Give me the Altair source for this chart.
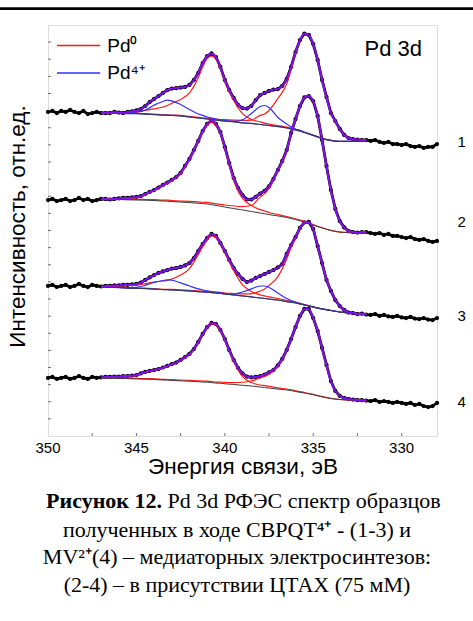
import altair as alt
import pandas as pd

# ---------------- energies (eV) ----------------
E_DATA = [350.0, 349.75, 349.5, 349.25, 349.0, 348.75, 348.5, 348.25, 348.0, 347.75, 347.5, 347.25,
          347.0, 346.75, 346.5, 346.25, 346.0, 345.75, 345.5, 345.25, 345.0, 344.75, 344.5, 344.25,
          344.0, 343.75, 343.5, 343.25, 343.0, 342.75, 342.5, 342.25, 342.0, 341.75, 341.5, 341.25,
          341.0, 340.75, 340.5, 340.25, 340.0, 339.75, 339.5, 339.25, 339.0, 338.75, 338.5, 338.25,
          338.0, 337.75, 337.5, 337.25, 337.0, 336.75, 336.5, 336.25, 336.0, 335.75, 335.5, 335.25,
          335.0, 334.75, 334.5, 334.25, 334.0, 333.75, 333.5, 333.25, 333.0, 332.75, 332.5, 332.25,
          332.0, 331.75, 331.5, 331.25, 331.0, 330.75, 330.5, 330.25, 330.0, 329.75, 329.5, 329.25,
          329.0, 328.75, 328.5, 328.25, 328.0]

E_FIT = [347.0, 346.5, 346.0, 345.5, 345.0, 344.5, 344.0, 343.5, 343.25, 343.0,
         342.5, 342.0, 341.5, 341.25, 341.0, 340.75, 340.5, 340.25, 340.0, 339.5,
         339.0, 338.5, 338.0, 337.75, 337.5, 337.0, 336.5, 336.25, 336.0, 335.75,
         335.5, 335.25, 335.0, 334.75, 334.5, 334.0, 333.5, 333.0, 332.5, 332.0]

# ---------------- measured spectra (stacked, rel. units) ----------------
SPECTRUM_1 = [18.92, 18.98, 18.86, 18.98, 18.92, 19.04, 18.92, 18.86, 18.98, 18.80, 18.86, 18.92,
              18.86, 18.86, 18.86, 18.92, 18.89, 18.86, 18.92, 18.95, 19.01, 19.09, 19.27, 19.50,
              19.68, 19.85, 20.03, 20.20, 20.29, 20.32, 20.35, 20.38, 20.50, 20.79, 21.20, 21.78,
              22.19, 22.34, 22.13, 21.55, 20.79, 20.20, 19.74, 19.33, 19.15, 19.12, 19.27, 19.62,
              19.91, 20.03, 20.15, 20.23, 20.26, 20.44, 20.85, 21.55, 22.42, 23.12, 23.50, 23.42,
              22.89, 21.96, 20.79, 19.80, 18.86, 18.39, 17.93, 17.58, 17.40, 17.34, 17.31, 17.28,
              17.28, 17.23, 17.28, 17.17, 17.11, 17.17, 17.05, 17.05, 16.99, 17.05, 16.93, 16.88,
              16.93, 16.82, 16.88, 16.88, 17.05]
SPECTRUM_2 = [13.78, 13.84, 13.72, 13.78, 13.84, 13.72, 13.78, 13.90, 13.78, 13.84, 13.72, 13.78,
              13.84, 13.84, 13.81, 13.84, 13.87, 13.90, 13.90, 13.93, 13.96, 14.01, 14.13, 14.25,
              14.36, 14.51, 14.66, 14.80, 14.95, 15.12, 15.36, 15.77, 16.18, 16.70, 17.23, 17.81,
              18.22, 18.42, 18.22, 17.75, 16.88, 15.94, 15.07, 14.48, 14.07, 13.81, 13.81, 13.96,
              14.16, 14.31, 14.57, 15.01, 15.53, 16.06, 16.70, 17.69, 18.51, 19.27, 19.77, 19.85,
              19.56, 18.69, 17.28, 15.77, 14.36, 13.26, 12.55, 12.18, 11.97, 11.91, 11.88, 11.91,
              11.91, 11.85, 11.80, 11.85, 11.74, 11.80, 11.68, 11.68, 11.62, 11.56, 11.62, 11.50,
              11.45, 11.50, 11.39, 11.33, 11.39]
SPECTRUM_3 = [8.76, 8.82, 8.70, 8.76, 8.82, 8.70, 8.76, 8.88, 8.76, 8.70, 8.82, 8.76,
              8.73, 8.76, 8.76, 8.79, 8.79, 8.82, 8.82, 8.85, 8.88, 8.96, 9.11, 9.26,
              9.40, 9.52, 9.61, 9.69, 9.78, 9.81, 9.87, 9.96, 10.10, 10.39, 10.80, 11.21,
              11.56, 11.80, 11.68, 11.27, 10.80, 10.28, 9.81, 9.46, 9.17, 8.99, 9.08, 9.23,
              9.34, 9.46, 9.58, 9.69, 9.84, 10.04, 10.63, 11.15, 11.62, 12.15, 12.47, 12.50,
              12.09, 11.09, 10.10, 9.11, 8.47, 7.94, 7.59, 7.36, 7.21, 7.18, 7.12, 7.15,
              7.09, 7.07, 7.12, 7.01, 7.07, 6.98, 6.95, 7.01, 6.92, 6.89, 6.95, 6.86,
              6.83, 6.89, 6.80, 6.77, 6.89]
SPECTRUM_4 = [3.39, 3.45, 3.33, 3.39, 3.45, 3.33, 3.39, 3.50, 3.39, 3.33, 3.45, 3.39,
              3.42, 3.45, 3.45, 3.47, 3.47, 3.50, 3.50, 3.53, 3.56, 3.65, 3.74, 3.80,
              3.85, 3.91, 4.00, 4.09, 4.20, 4.29, 4.44, 4.61, 4.79, 5.08, 5.49, 5.96,
              6.36, 6.60, 6.54, 6.19, 5.66, 5.02, 4.44, 3.97, 3.65, 3.47, 3.42, 3.45,
              3.50, 3.59, 3.71, 3.85, 4.12, 4.50, 5.02, 5.66, 6.36, 7.01, 7.42, 7.42,
              6.89, 6.13, 5.14, 4.15, 3.21, 2.63, 2.34, 2.22, 2.16, 2.13, 2.10, 2.10,
              2.07, 2.04, 2.10, 1.99, 2.04, 1.99, 1.93, 1.99, 1.93, 1.87, 1.93, 1.81,
              1.87, 1.75, 1.69, 1.75, 1.93]

# ---------------- Shirley backgrounds ----------------
BG_1 = [18.86, 18.86, 18.86, 18.83, 18.83, 18.80, 18.77, 18.74, 18.73, 18.72,
        18.69, 18.63, 18.57, 18.54, 18.51, 18.48, 18.45, 18.42, 18.39, 18.34,
        18.28, 18.25, 18.19, 18.16, 18.13, 18.07, 17.99, 17.93, 17.87, 17.81,
        17.72, 17.64, 17.55, 17.46, 17.37, 17.26, 17.20, 17.20, 17.20, 17.20]
BG_2 = [13.84, 13.83, 13.81, 13.79, 13.78, 13.77, 13.75, 13.72, 13.71, 13.69,
        13.66, 13.63, 13.59, 13.57, 13.55, 13.51, 13.46, 13.42, 13.37, 13.28,
        13.20, 13.11, 13.02, 12.98, 12.93, 12.85, 12.76, 12.70, 12.64, 12.57,
        12.50, 12.41, 12.32, 12.23, 12.15, 12.00, 11.91, 11.88, 11.85, 11.85]
BG_3 = [8.70, 8.68, 8.67, 8.64, 8.62, 8.61, 8.58, 8.55, 8.54, 8.53,
        8.50, 8.47, 8.43, 8.41, 8.39, 8.37, 8.35, 8.33, 8.29, 8.23,
        8.18, 8.12, 8.06, 8.03, 8.00, 7.94, 7.85, 7.81, 7.77, 7.71,
        7.65, 7.59, 7.53, 7.47, 7.42, 7.33, 7.24, 7.18, 7.15, 7.12]
BG_4 = [3.39, 3.38, 3.36, 3.35, 3.33, 3.32, 3.30, 3.27, 3.26, 3.25,
        3.22, 3.20, 3.17, 3.15, 3.14, 3.12, 3.09, 3.08, 3.05, 3.01,
        2.96, 2.92, 2.86, 2.83, 2.80, 2.74, 2.69, 2.65, 2.60, 2.55,
        2.51, 2.46, 2.41, 2.35, 2.29, 2.19, 2.13, 2.10, 2.07, 2.04]

# ---------------- fitted components (height above background) ----------------
PD0_A_1 = [0, 0, 0.01, 0.05, 0.08, 0.22, 0.33, 0.47, 0.57, 0.71, 0.96, 1.40, 2.36, 3.02, 3.52, 3.71, 3.56, 3.02, 2.28, 1.25,
           0.54, 0.23, 0.15, 0.11, 0.08, 0.06, 0.05, 0.05, 0.04, 0.04, 0.03, 0.02, 0.02, 0.02, 0.01, 0.01, 0.01, 0, 0, 0]
PD0_B_1 = [0.01, 0.01, 0.01, 0.01, 0.01, 0.02, 0.02, 0.02, 0.02, 0.02, 0.03, 0.03, 0.04, 0.04, 0.05, 0.05, 0.06, 0.06, 0.08, 0.11,
           0.15, 0.20, 0.53, 0.64, 0.88, 1.64, 2.57, 3.46, 4.46, 5.28, 5.76, 5.76, 5.33, 4.48, 3.40, 1.60, 0.73, 0.20, 0.12, 0.09]
PD4_A_1 = [0, 0, 0.01, 0.03, 0.09, 0.23, 0.55, 0.79, 0.88, 0.85, 0.67, 0.44, 0.23, 0.18, 0.12, 0.09, 0.06, 0.04, 0.03, 0.02,
           0.01, 0.01, 0, 0, 0, 0, 0, 0, 0, 0, 0, 0, 0, 0, 0, 0, 0, 0, 0, 0]
PD4_B_1 = [0, 0, 0, 0, 0, 0, 0, 0, 0, 0, 0, 0, 0, 0, 0, 0, 0, 0, 0.01, 0.03,
           0.18, 0.58, 1.05, 1.14, 1.05, 0.53, 0.23, 0.12, 0.06, 0.03, 0.02, 0.01, 0.01, 0, 0, 0, 0, 0, 0, 0]

PD0_A_2 = [0, 0.01, 0.04, 0.08, 0.14, 0.32, 0.57, 0.88, 1.03, 1.20, 1.63, 2.47, 3.56, 4.16, 4.58, 4.82, 4.66, 4.23, 3.39, 1.64,
           0.67, 0.35, 0.20, 0.16, 0.12, 0.08, 0.06, 0.05, 0.04, 0.04, 0.03, 0.02, 0.02, 0.02, 0.01, 0.01, 0, 0, 0, 0]
PD0_B_2 = [0.01, 0.02, 0.02, 0.03, 0.04, 0.04, 0.05, 0.05, 0.06, 0.06, 0.06, 0.07, 0.08, 0.08, 0.09, 0.09, 0.10, 0.11, 0.12, 0.15,
           0.20, 0.35, 0.93, 1.17, 1.52, 2.60, 3.88, 4.95, 5.83, 6.66, 7.24, 7.42, 7.22, 6.43, 5.13, 2.36, 0.64, 0.09, 0.03, 0.03]

PD0_A_3 = [0.02, 0.06, 0.10, 0.15, 0.18, 0.29, 0.41, 0.50, 0.55, 0.64, 0.90, 1.31, 2.17, 2.65, 3.04, 3.31, 3.23, 2.86, 2.42, 1.42,
           0.64, 0.32, 0.18, 0.15, 0.12, 0.09, 0.06, 0.05, 0.04, 0.04, 0.03, 0.02, 0.02, 0.01, 0.01, 0, 0, 0, 0, 0]
PD0_B_3 = [0.01, 0.01, 0.02, 0.02, 0.02, 0.02, 0.02, 0.02, 0.03, 0.03, 0.03, 0.04, 0.04, 0.04, 0.05, 0.05, 0.05, 0.06, 0.06, 0.09,
           0.12, 0.18, 0.41, 0.55, 0.79, 1.37, 2.48, 3.20, 3.77, 4.38, 4.78, 4.88, 4.54, 3.61, 2.67, 1.13, 0.35, 0.03, 0, 0]
PD4_A_3 = [0, 0, 0.01, 0.02, 0.06, 0.19, 0.39, 0.53, 0.58, 0.57, 0.44, 0.29, 0.16, 0.12, 0.08, 0.06, 0.04, 0.03, 0.02, 0.01,
           0, 0, 0, 0, 0, 0, 0, 0, 0, 0, 0, 0, 0, 0, 0, 0, 0, 0, 0, 0]
PD4_B_3 = [0, 0, 0, 0, 0, 0, 0, 0, 0, 0, 0, 0, 0, 0, 0, 0, 0, 0, 0.01, 0.06,
           0.23, 0.47, 0.70, 0.73, 0.67, 0.41, 0.18, 0.10, 0.05, 0.02, 0.01, 0, 0, 0, 0, 0, 0, 0, 0, 0]

PD0_A_4 = [0.01, 0.05, 0.09, 0.13, 0.20, 0.39, 0.52, 0.69, 0.79, 0.92, 1.17, 1.54, 2.27, 2.75, 3.17, 3.42, 3.38, 3.04, 2.53, 1.33,
           0.51, 0.20, 0.12, 0.11, 0.10, 0.07, 0.05, 0.05, 0.04, 0.04, 0.03, 0.02, 0.02, 0.01, 0.01, 0.01, 0, 0, 0, 0]
PD0_B_4 = [0.02, 0.02, 0.02, 0.03, 0.03, 0.03, 0.04, 0.04, 0.04, 0.04, 0.04, 0.05, 0.05, 0.06, 0.06, 0.06, 0.06, 0.07, 0.08, 0.11,
           0.18, 0.29, 0.53, 0.65, 0.81, 1.30, 2.28, 2.97, 3.73, 4.42, 4.88, 4.93, 4.47, 3.77, 2.84, 1.02, 0.20, 0.06, 0.03, 0.03]

# ---------------- labels / ticks ----------------
SAMPLE_LABELS = ["1", "2", "3", "4"]
SAMPLE_LABEL_I = [17.17, 12.50, 6.98, 1.96]
SAMPLE_LABEL_E = 326.6
X_LABELS = [350, 345, 340, 335, 330]
X_LABEL_TEXT = ["350", "345", "340", "335", "330"]
X_MAJOR = [345, 340, 335, 330]
X_MINOR = [347.5, 342.5, 337.5, 332.5]
Y_TICKS = [1, 2, 3, 4, 5, 6, 7, 8, 9, 10, 11, 12, 13, 14, 15, 16, 17, 18, 19, 20, 21, 22, 23]
LEGEND_TEXT = ["Pd\u2070", "Pd\u2074\u207a"]
LEGEND_I = [22.80, 21.20]

RED = "#ff1a1a"
BLUE = "#3030ff"
PURPLE = "#7f10f0"
GREY = "#3c3c3c"
SANS = "Liberation Sans"
SERIF = "Liberation Serif"

# ---------------- build tables ----------------
spectra = [SPECTRUM_1, SPECTRUM_2, SPECTRUM_3, SPECTRUM_4]
rows = []
for k, vals in enumerate(spectra, start=1):
    assert len(vals) == len(E_DATA), (k, len(vals))
    for e, v in zip(E_DATA, vals):
        rows.append({"E": e, "I": v, "s": k})
data_df = pd.DataFrame(rows)
env_df = data_df[(data_df["E"] >= 332.0) & (data_df["E"] <= 347.0)]

components = {
    1: (BG_1, [PD0_A_1, PD0_B_1], [PD4_A_1, PD4_B_1]),
    2: (BG_2, [PD0_A_2, PD0_B_2], []),
    3: (BG_3, [PD0_A_3, PD0_B_3], [PD4_A_3, PD4_B_3]),
    4: (BG_4, [PD0_A_4, PD0_B_4], []),
}
fit_rows = []
for k, (bg, reds, blues) in components.items():
    assert len(bg) == len(E_FIT), (k, "bg", len(bg))
    for e, b in zip(E_FIT, bg):
        fit_rows.append({"E": e, "I": b, "series": f"{k}-bg", "kind": "bg"})
    for kind, arrs in (("red", reds), ("blue", blues)):
        for j, arr in enumerate(arrs):
            assert len(arr) == len(E_FIT), (k, kind, j, len(arr))
            for e, b, d in zip(E_FIT, bg, arr):
                fit_rows.append({"E": e, "I": b + d, "series": f"{k}-{kind}{j}", "kind": kind})
fit_df = pd.DataFrame(fit_rows)

# ---------------- encodings ----------------
XS = alt.Scale(domain=[328, 350], reverse=True, nice=False, zero=False)
YS = alt.Scale(domain=[0, 24], nice=False, zero=False)
X = alt.X("E:Q", scale=XS, axis=None)
Y = alt.Y("I:Q", scale=YS, axis=None)

layers = []
layers.append(alt.Chart(data_df).mark_line(color="black", strokeWidth=2.8).encode(X, Y, detail="s:N"))
layers.append(alt.Chart(data_df).mark_circle(color="black", size=18, opacity=1).encode(X, Y))
for kind, col, w in (("red", RED, 1.2), ("blue", BLUE, 1.2), ("bg", GREY, 1.0)):
    layers.append(alt.Chart(fit_df[fit_df["kind"] == kind]).mark_line(
        color=col, strokeWidth=w, interpolate="monotone").encode(X, Y, detail="series:N"))
layers.append(alt.Chart(env_df).mark_line(color=PURPLE, strokeWidth=2.0, interpolate="monotone")
              .encode(X, Y, detail="s:N"))

# inward ticks
layers.append(alt.Chart(pd.DataFrame({"I": Y_TICKS})).mark_tick(
    orient="horizontal", size=3, thickness=1, color="#333").encode(y=Y, x=alt.value(1.5)))
layers.append(alt.Chart(pd.DataFrame({"E": X_MAJOR + X_MINOR})).mark_tick(
    orient="vertical", size=3, thickness=1, color="#333").encode(x=X, y=alt.value(411 - 1.5)))

# x tick labels through the x scale
layers.append(alt.Chart(pd.DataFrame({"E": X_LABELS, "t": X_LABEL_TEXT})).mark_text(
    font=SANS, fontSize=15, align="center", baseline="alphabetic", color="black").encode(
    x=X, y=alt.value(427.5), text="t:N"))

# sample numbers at right
lab_df = pd.DataFrame({"E": [SAMPLE_LABEL_E] * 4, "I": SAMPLE_LABEL_I, "t": SAMPLE_LABELS})
layers.append(alt.Chart(lab_df).mark_text(font=SANS, fontSize=15, align="center", baseline="middle",
                                          color="black").encode(X, Y, text="t:N"))
# Pd 3d
layers.append(alt.Chart(pd.DataFrame({"E": [332.1], "I": [22.6], "t": ["Pd 3d"]})).mark_text(
    font=SANS, fontSize=22, align="left", baseline="middle", color="black").encode(X, Y, text="t:N"))
# legend
leg_df = pd.DataFrame({"E": [349.49, 349.49], "E2": [347.05, 347.05], "I": LEGEND_I,
                       "c": [RED, BLUE], "t": LEGEND_TEXT, "Et": [346.65, 346.65]})
layers.append(alt.Chart(leg_df).mark_rule(strokeWidth=1.5).encode(
    X, alt.X2("E2:Q"), Y, color=alt.Color("c:N", scale=None)))
layers.append(alt.Chart(leg_df).mark_text(font=SANS, fontSize=19, align="left", baseline="middle",
                                          color="black").encode(
    alt.X("Et:Q", scale=XS, axis=None), Y, text="t:N"))


def txt(s, x, y, size, font, weight="normal", align="center", baseline="alphabetic", angle=0):
    return alt.Chart(pd.DataFrame({"t": [s]})).mark_text(
        font=font, fontSize=size, fontWeight=weight, align=align, baseline=baseline,
        angle=angle, color="black").encode(text="t:N", x=alt.value(x), y=alt.value(y))


# axis titles
layers.append(txt("Энергия связи, эВ", 195, 449, 22.5, SANS))
layers.append(txt("Интенсивность, отн.ед.", -30.5, 201.5, 22.5, SANS, baseline="middle", angle=270))

# caption
layers.append(txt("Рисунок 12.", 114, 483, 22, SERIF, "bold", "right"))
layers.append(txt("Pd 3d РФЭС спектр образцов", 119.5, 483, 22, SERIF, "normal", "left"))
layers.append(txt("полученных в ходе CBPQT\u2074\u207a - (1-3) и", 189, 512, 22, SERIF))
layers.append(txt("MV\u00b2\u207a(4) – медиаторных электросинтезов:", 189, 539, 22, SERIF))
layers.append(txt("(2-4) – в присутствии ЦТАХ (75 мМ)", 189, 567, 22, SERIF))

# top rule
layers.append(alt.Chart(pd.DataFrame({"a": [0]})).mark_rule(color="black", strokeWidth=2.7).encode(
    x=alt.value(-48), x2=alt.value(425), y=alt.value(-16.3)))

chart = alt.layer(*layers).properties(
    width=389, height=411,
    autosize=alt.AutoSizeParams(type="none"),
    padding={"left": 48, "top": 25, "right": 36, "bottom": 185},
).configure_view(stroke="#222", strokeWidth=1).configure(font=SANS, background="white")

chart.save("out.html", embed_options={"renderer": "svg", "actions": False})
